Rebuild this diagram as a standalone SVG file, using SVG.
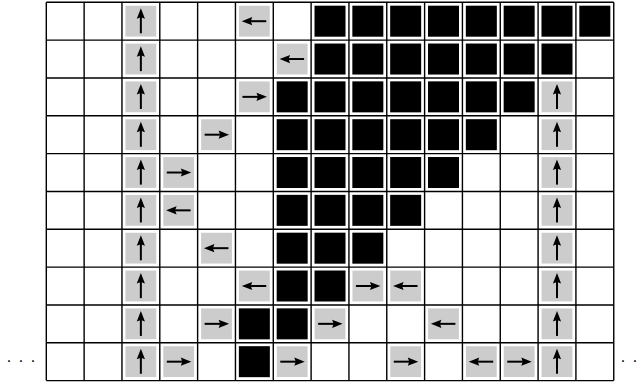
<svg xmlns="http://www.w3.org/2000/svg" width="643" height="382" viewBox="0 0 643 382">
<style>
.grid{stroke:#000;stroke-width:1.4;fill:none}
.g{fill:#cccccc}
.b{fill:#000}
.a{stroke:#000;stroke-width:2;fill:none}
.h{fill:#000}
.dots{font-family:"Liberation Sans",Arial,sans-serif;font-size:16px;fill:#000;letter-spacing:7.55px}
</style>
<defs>
<g id="blk"><rect class="b" x="3.4" y="3.4" width="31" height="31"/></g>
<g id="up"><rect class="g" x="3.5" y="3.5" width="30.8" height="30.8"/><line class="a" x1="18.9" y1="31" x2="18.9" y2="13"/><path class="h" d="M18.9 6 L23 16.5 L18.9 15 L14.8 16.5 Z"/></g>
<g id="rt"><rect class="g" x="3.5" y="3.5" width="30.8" height="30.8"/><line class="a" x1="7" y1="18.9" x2="25" y2="18.9"/><path class="h" d="M31.5 18.9 L21 14.8 L22.5 18.9 L21 23 Z"/></g>
<g id="lt"><rect class="g" x="3.5" y="3.5" width="30.8" height="30.8"/><line class="a" x1="12.8" y1="18.9" x2="30.8" y2="18.9"/><path class="h" d="M6.3 18.9 L16.8 14.8 L15.3 18.9 L16.8 23 Z"/></g>
</defs>
<rect x="0" y="0" width="643" height="382" fill="#fff"/>
<g id="cells">
<g id="r0">
<use href="#up" x="121.96" y="2.3"/><use href="#lt" x="235.45" y="2.3"/>
<use href="#blk" x="311.11" y="2.3"/><use href="#blk" x="348.94" y="2.3"/><use href="#blk" x="386.77" y="2.3"/><use href="#blk" x="424.6" y="2.3"/><use href="#blk" x="462.43" y="2.3"/><use href="#blk" x="500.26" y="2.3"/><use href="#blk" x="538.09" y="2.3"/><use href="#blk" x="575.92" y="2.3"/>
</g>
<g id="r1">
<use href="#up" x="121.96" y="40.13"/><use href="#lt" x="273.28" y="40.13"/>
<use href="#blk" x="311.11" y="40.13"/><use href="#blk" x="348.94" y="40.13"/><use href="#blk" x="386.77" y="40.13"/><use href="#blk" x="424.6" y="40.13"/><use href="#blk" x="462.43" y="40.13"/><use href="#blk" x="500.26" y="40.13"/><use href="#blk" x="538.09" y="40.13"/>
</g>
<g id="r2">
<use href="#up" x="121.96" y="77.96"/><use href="#rt" x="235.45" y="77.96"/>
<use href="#blk" x="273.28" y="77.96"/><use href="#blk" x="311.11" y="77.96"/><use href="#blk" x="348.94" y="77.96"/><use href="#blk" x="386.77" y="77.96"/><use href="#blk" x="424.6" y="77.96"/><use href="#blk" x="462.43" y="77.96"/><use href="#blk" x="500.26" y="77.96"/>
<use href="#up" x="538.09" y="77.96"/>
</g>
<g id="r3">
<use href="#up" x="121.96" y="115.79"/><use href="#rt" x="197.62" y="115.79"/>
<use href="#blk" x="273.28" y="115.79"/><use href="#blk" x="311.11" y="115.79"/><use href="#blk" x="348.94" y="115.79"/><use href="#blk" x="386.77" y="115.79"/><use href="#blk" x="424.6" y="115.79"/><use href="#blk" x="462.43" y="115.79"/>
<use href="#up" x="538.09" y="115.79"/>
</g>
<g id="r4">
<use href="#up" x="121.96" y="153.62"/><use href="#rt" x="159.79" y="153.62"/>
<use href="#blk" x="273.28" y="153.62"/><use href="#blk" x="311.11" y="153.62"/><use href="#blk" x="348.94" y="153.62"/><use href="#blk" x="386.77" y="153.62"/><use href="#blk" x="424.6" y="153.62"/>
<use href="#up" x="538.09" y="153.62"/>
</g>
<g id="r5">
<use href="#up" x="121.96" y="191.45"/><use href="#lt" x="159.79" y="191.45"/>
<use href="#blk" x="273.28" y="191.45"/><use href="#blk" x="311.11" y="191.45"/><use href="#blk" x="348.94" y="191.45"/><use href="#blk" x="386.77" y="191.45"/>
<use href="#up" x="538.09" y="191.45"/>
</g>
<g id="r6">
<use href="#up" x="121.96" y="229.28"/><use href="#lt" x="197.62" y="229.28"/>
<use href="#blk" x="273.28" y="229.28"/><use href="#blk" x="311.11" y="229.28"/><use href="#blk" x="348.94" y="229.28"/>
<use href="#up" x="538.09" y="229.28"/>
</g>
<g id="r7">
<use href="#up" x="121.96" y="267.11"/><use href="#lt" x="235.45" y="267.11"/>
<use href="#blk" x="273.28" y="267.11"/><use href="#blk" x="311.11" y="267.11"/>
<use href="#rt" x="348.94" y="267.11"/><use href="#lt" x="386.77" y="267.11"/>
<use href="#up" x="538.09" y="267.11"/>
</g>
<g id="r8">
<use href="#up" x="121.96" y="304.94"/><use href="#rt" x="197.62" y="304.94"/>
<use href="#blk" x="235.45" y="304.94"/><use href="#blk" x="273.28" y="304.94"/>
<use href="#rt" x="311.11" y="304.94"/><use href="#lt" x="424.6" y="304.94"/>
<use href="#up" x="538.09" y="304.94"/>
</g>
<g id="r9">
<use href="#up" x="121.96" y="342.77"/><use href="#rt" x="159.79" y="342.77"/>
<use href="#blk" x="235.45" y="342.77"/><use href="#rt" x="273.28" y="342.77"/>
<use href="#rt" x="386.77" y="342.77"/><use href="#lt" x="462.43" y="342.77"/><use href="#rt" x="500.26" y="342.77"/>
<use href="#up" x="538.09" y="342.77"/>
</g>
</g>
<g id="gridlines">
<path class="grid" d="M46.3 2.3V380.6M84.13 2.3V380.6M121.96 2.3V380.6M159.79 2.3V380.6M197.62 2.3V380.6M235.45 2.3V380.6M273.28 2.3V380.6M311.11 2.3V380.6M348.94 2.3V380.6M386.77 2.3V380.6M424.6 2.3V380.6M462.43 2.3V380.6M500.26 2.3V380.6M538.09 2.3V380.6M575.92 2.3V380.6M613.75 2.3V380.6"/>
<path class="grid" d="M46.3 2.3H613.75M46.3 40.13H613.75M46.3 77.96H613.75M46.3 115.79H613.75M46.3 153.62H613.75M46.3 191.45H613.75M46.3 229.28H613.75M46.3 267.11H613.75M46.3 304.94H613.75M46.3 342.77H613.75M46.3 380.6H613.75"/>
</g>
<text class="dots" x="6.8" y="362">...</text>
<text class="dots" x="620.8" y="362">...</text>
</svg>
